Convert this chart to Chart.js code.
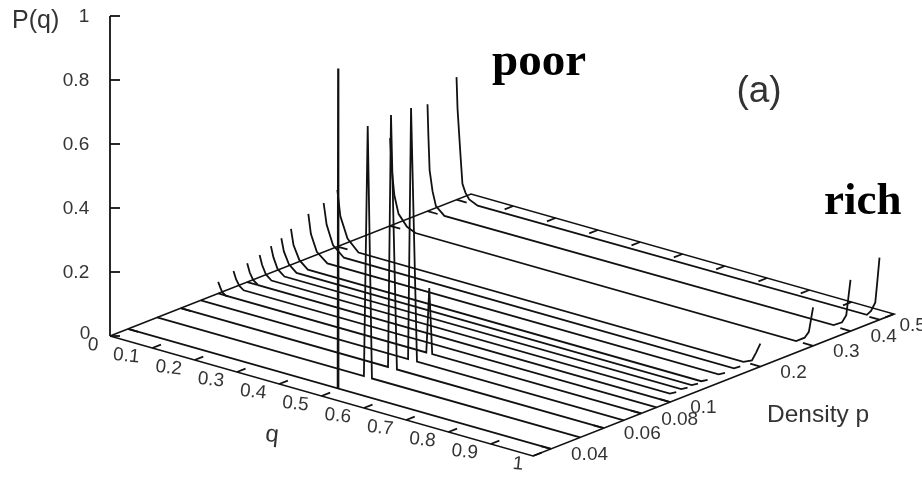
<!DOCTYPE html>
<html>
<head>
<meta charset="utf-8">
<style>
  html, body { margin: 0; padding: 0; background: #fff; overflow: hidden; }
  canvas { display: block; }
</style>
<script src="https://cdn.jsdelivr.net/npm/chart.js@4"></script>
</head>
<body>
<canvas id="grafico" width="922" height="478"></canvas>
<script>
// values, each curve is [q, P(q)]
const curve004 = [[0,0],[.4955,0],[.4965,1],[.4975,0],[1,0]];
const curve005 = [[0,0],[.489,0],[.498,.785],[.508,0],[1,0]];
const curve006 = [[0,0],[.49,0],[.497,.79],[.511,0],[1,0]];
const curve007 = [[0,0],[.49,0],[.497,.787],[.511,0],[1,0]];
const curve008 = [[0,.036],[.005,.02],[.01,.007],[.018,0],[.492,0],[.499,.204],[.506,0],[1,0]];
const curve009 = [[0,.051],[.006,.028],[.014,.01],[.024,0],[1,0]];
const curve010 = [[0,.059],[.006,.032],[.014,.012],[.026,0],[1,0]];
const curve011 = [[0,.069],[.006,.04],[.015,.014],[.028,0],[.97,0],[.985,.01]];
const curve012 = [[0,.083],[.006,.05],[.016,.017],[.032,0],[.97,0],[.985,.01]];
const curve013 = [[0,.095],[.006,.056],[.018,.02],[.036,0],[.97,0],[.985,.01]];
const curve014 = [[0,.1125],[.006,.064],[.02,.022],[.04,0],[.97,0],[.985,.01]];
const curve016 = [[0,.1375],[.006,.078],[.02,.027],[.045,0],[.97,0],[.985,.01]];
const curve018 = [[0,.153],[.007,.088],[.022,.03],[.048,0],[.97,0],[.985,.012]];
const curve020 = [[0,.177],[.007,.098],[.024,.034],[.05,0],[.96,0],[.98,.012],[.99,.04],[1,.072]];
const curve030 = [[0,.274],[.004,.18],[.01,.1],[.02,.045],[.04,.012],[.06,0],[.96,0],[.98,.018],[.99,.04],[1,.12]];
const curve040 = [[0,.334],[.002,.24],[.005,.13],[.012,.066],[.02,.023],[.04,0],[.96,.004],[.98,.02],[.99,.046],[1,.16]];
const curve050 = [[0,.383],[.0024,.285],[.0095,.14],[.014,.055],[.021,.03],[.03,.012],[.05,0],[.97,.004],[.98,.02],[.99,.05],[.995,.12],[1,.194]];

const densidades = [.04,.05,.06,.07,.08,.09,.1,.11,.12,.13,.14,.16,.18,.2,.3,.4,.5];
const curvas = [curve004,curve005,curve006,curve007,curve008,curve009,curve010,curve011,curve012,
  curve013,curve014,curve016,curve018,curve020,curve030,curve040,curve050];

const ticksP = [0,.2,.4,.6,.8,1];
const labelsP = ['0','0.2','0.4','0.6','0.8','1'];
const ticksQ = [.1,.2,.3,.4,.5,.6,.7,.8,.9,1];
const labelsQ = ['0.1','0.2','0.3','0.4','0.5','0.6','0.7','0.8','0.9','1'];
const ticksDens = [.04,.06,.08,.1,.2,.3,.4,.5];
const labelsDens = ['0.04','0.06','0.08','0.1','0.2','0.3','0.4','0.5'];

// density axis limits, the axis is logarithmic
const densMin = 0.03482;
const densMax = 0.5589;

// 3d view of the box, in chart units
const origem = { x: 110, y: 336 };
const vetorQ = { x: 423, y: 120 };
const vetorD = { x: 361, y: -142 };
const alturaP = 320;

function projetar(q, dens, P) {
    const t = Math.log(dens / densMin) / Math.log(densMax / densMin);
    return {
        x: origem.x + q * vetorQ.x + t * vetorD.x,
        y: origem.y + q * vetorQ.y + t * vetorD.y - P * alturaP
    };
}

function linha(pontos, largura) {
    return {
        data: pontos,
        showLine: true,
        tension: 0,
        borderColor: '#111',
        borderWidth: largura || 1.8,
        pointRadius: 0,
        fill: false
    };
}

const datasets = [];

curvas.forEach((curva, i) => {
    datasets.push(linha(curva.map(([q, P]) => projetar(q, densidades[i], P))));
});

// box on the floor
datasets.push(linha([
    projetar(0, densMin, 0),
    projetar(1, densMin, 0),
    projetar(1, densMax, 0),
    projetar(0, densMax, 0),
    projetar(0, densMin, 0)
], 1.6));

// P axis and its ticks
datasets.push(linha([projetar(0, densMin, 0), projetar(0, densMin, 1)]));
ticksP.forEach((P) => {
    const a = projetar(0, densMin, P);
    datasets.push(linha([a, { x: a.x + 10, y: a.y }]));
});

// q ticks on the front and back edges
const tamanhoTick = 0.024;
ticksQ.forEach((q) => {
    const frente = projetar(q, densMin, 0);
    const fundo = projetar(q, densMax, 0);
    datasets.push(linha([frente, { x: frente.x + vetorD.x * tamanhoTick, y: frente.y + vetorD.y * tamanhoTick }]));
    datasets.push(linha([fundo, { x: fundo.x - vetorD.x * tamanhoTick, y: fundo.y - vetorD.y * tamanhoTick }]));
});

// density ticks on the left and right edges
ticksDens.forEach((d) => {
    datasets.push(linha([projetar(0, d, 0), projetar(tamanhoTick, d, 0)]));
    datasets.push(linha([projetar(1, d, 0), projetar(1 - tamanhoTick, d, 0)]));
});

const textos = {
    id: 'textos',
    afterDatasetsDraw(chart) {
        const { ctx, scales } = chart;
        const px = (v) => scales.x.getPixelForValue(v);
        const py = (v) => scales.y.getPixelForValue(v);

        function escrever(txt, x, y, fonte, alinhamento, angulo, cor) {
            ctx.save();
            ctx.translate(px(x), py(y));
            ctx.rotate((angulo || 0) * Math.PI / 180);
            ctx.font = fonte;
            ctx.fillStyle = cor || '#333';
            ctx.textAlign = alinhamento || 'center';
            ctx.textBaseline = 'middle';
            ctx.fillText(txt, 0, 0);
            ctx.restore();
        }

        const fonteTick = '19px "Liberation Sans"';

        ticksP.forEach((P, i) => {
            if (P === 0) {
                escrever(labelsP[i], 85, 334, fonteTick);
            } else if (P === 1) {
                escrever(labelsP[i], 84, 17, fonteTick);
            } else {
                const a = projetar(0, densMin, P);
                escrever(labelsP[i], 76, a.y + 1, fonteTick);
            }
        });

        escrever('0', 93, 345, fonteTick, 'center', 6);
        ticksQ.forEach((q, i) => {
            const a = projetar(q, densMin, 0);
            const dx = q === 1 ? -15 : -26;
            escrever(labelsQ[i], a.x + dx, a.y + 8, fonteTick, 'center', 6);
        });

        ticksDens.forEach((d, i) => {
            const a = projetar(1, d, 0);
            escrever(labelsDens[i], a.x + 20, a.y + 6, fonteTick, 'left');
        });

        escrever('P(q)', 12, 21, '25px "Liberation Sans"', 'left');
        escrever('q', 272, 435, '24px "Liberation Sans"', 'center', 6);
        escrever('Density p', 767, 415, '24.5px "Liberation Sans"', 'left');
        escrever('(a)', 759, 92, '37px "Liberation Sans"');
        escrever('poor', 492, 63, 'bold 47px "Liberation Serif"', 'left', 0, '#000');
        escrever('rich', 824, 202, 'bold 45px "Liberation Serif"', 'left', 0, '#000');
    }
};

new Chart(document.getElementById('grafico'), {
    type: 'scatter',
    data: { datasets },
    plugins: [textos],
    options: {
        responsive: false,
        animation: false,
        layout: { padding: 0 },
        plugins: {
            legend: { display: false },
            tooltip: { enabled: false }
        },
        scales: {
            x: { type: 'linear', min: 0, max: 922, display: false },
            y: { type: 'linear', min: 0, max: 478, reverse: true, display: false }
        }
    }
});
</script>
</body>
</html>
